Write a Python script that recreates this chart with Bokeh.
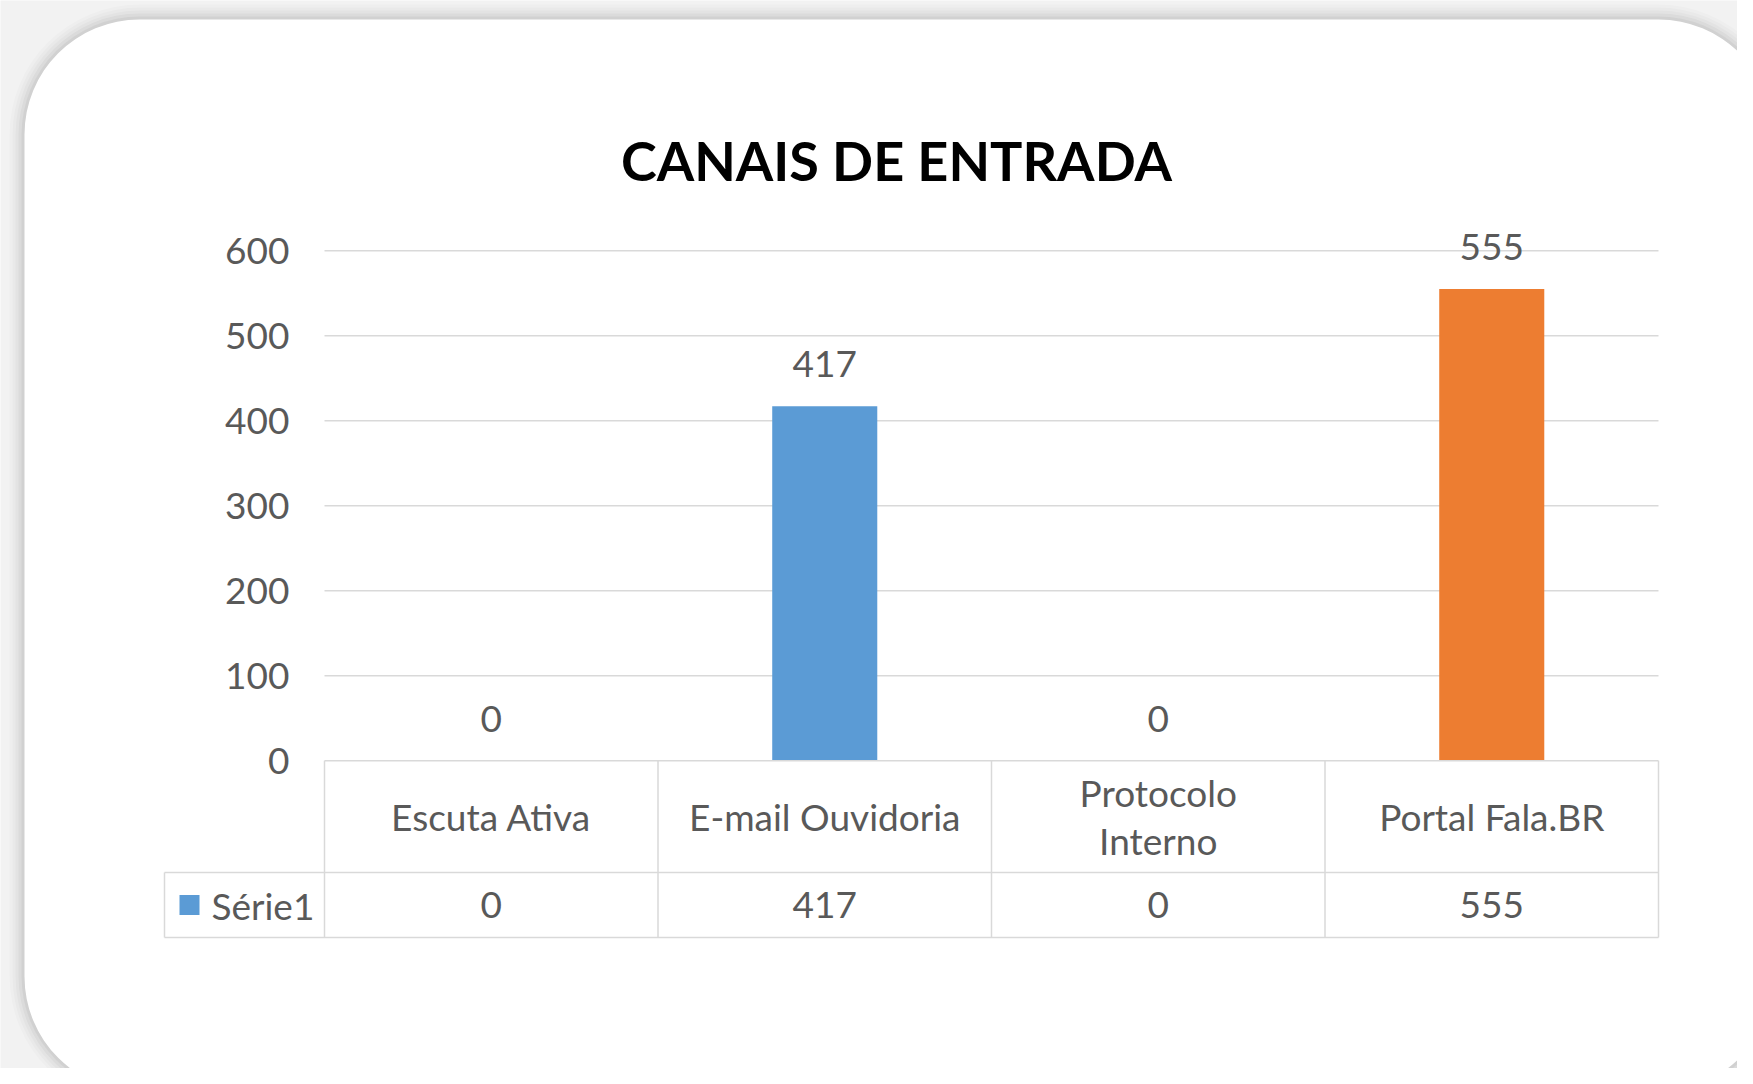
from bokeh.plotting import figure
from bokeh.models import ColumnDataSource, Range1d
from bokeh.core.properties import value
from bokeh.embed import file_html
from bokeh.resources import INLINE

# ---------------- data ----------------
title_text = "CANAIS DE ENTRADA"
categories = ["Escuta Ativa", "E-mail Ouvidoria", "Protocolo Interno", "Portal Fala.BR"]
category_labels = ["Escuta Ativa", "E-mail Ouvidoria", "Protocolo\nInterno", "Portal Fala.BR"]
values = [0, 417, 0, 555]
bar_colors = ["#5B9BD5", "#5B9BD5", "#5B9BD5", "#ED7D31"]
series_name = "Série1"
y_ticks = [0, 100, 200, 300, 400, 500, 600]

# ---------------- layout constants ----------------
W, H = 1737, 1068
PX_X = 333.5          # pixels per category
PX_Y = 0.85           # pixels per value unit
ORIG_X = 324          # figure px of category 0 left edge
ORIG_Y = 760.2        # figure px of value 0

def dx(px):  # figure pixel x -> data x
    return (px - ORIG_X) / PX_X

def dy(py):  # figure pixel y -> data y
    return (ORIG_Y - py) / PX_Y

FONT = value("Lato")
GRAY_TXT = "#595959"
LINE = "#d9d9d9"
FS = "37px"

p = figure(width=W, height=H, output_backend="svg", toolbar_location=None,
           x_range=Range1d(dx(0), dx(W)), y_range=Range1d(dy(H), dy(0)),
           min_border=0, border_fill_color="#f2f2f2", background_fill_color="#f2f2f2",
           outline_line_color=None)
p.xaxis.visible = False
p.yaxis.visible = False
p.grid.visible = False

# ---------------- card with soft shadow ----------------
cl, ct, cr, cb = dx(24), dy(19), dx(1773), dy(1091)
for i, a in enumerate([0.015, 0.02, 0.025, 0.035, 0.045]):
    g = (5 - i) * 3
    p.quad(left=[cl - g / PX_X], right=[cr + g / PX_X], top=[ct + g / PX_Y], bottom=[cb - g / PX_Y],
           fill_color="#000000", fill_alpha=a, line_color=None, border_radius=115 + g)
p.quad(left=[cl], right=[cr], top=[ct], bottom=[cb], fill_color="white",
       line_color=None, border_radius=115)

# ---------------- grid lines ----------------
n = len(categories)
grid_y = [t for t in y_ticks if t > 0]
p.segment(x0=[0] * len(grid_y), x1=[n] * len(grid_y), y0=grid_y, y1=grid_y,
          line_color=LINE, line_width=1.5)

# ---------------- y tick labels ----------------
p.text(x=[dx(289)] * len(y_ticks), y=y_ticks, text=[str(t) for t in y_ticks],
       text_font=FONT, text_font_size=FS, text_color=GRAY_TXT,
       text_align="right", text_baseline="middle")

# ---------------- bars ----------------
xs = [i + 0.5 for i in range(n)]
src = ColumnDataSource(dict(x=xs, top=values, color=bar_colors,
                            lab=[str(v) for v in values]))
p.vbar(x="x", top="top", bottom=0, width=0.315, fill_color="color", line_color=None, source=src)
p.text(x="x", y="top", text="lab", source=src, y_offset=-42,
       text_font=FONT, text_font_size=FS, text_color=GRAY_TXT,
       text_align="center", text_baseline="middle")

# ---------------- data table ----------------
y_mid = dy(872)
y_bot = dy(937)
leg_left = dx(164)
p.segment(x0=[0, leg_left, leg_left], x1=[n, n, n], y0=[0, y_mid, y_bot], y1=[0, y_mid, y_bot],
          line_color=LINE, line_width=1.5)
vx = list(range(n + 1))
p.segment(x0=vx, x1=vx, y0=[0] * len(vx), y1=[y_bot] * len(vx), line_color=LINE, line_width=1.5)
p.segment(x0=[leg_left], x1=[leg_left], y0=[y_mid], y1=[y_bot], line_color=LINE, line_width=1.5)

# category labels (header row)
p.text(x=xs, y=[(0 + y_mid) / 2] * n, text=category_labels,
       text_font=FONT, text_font_size=FS, text_color=GRAY_TXT,
       text_align="center", text_baseline="middle", text_line_height=1.08)
# values row
p.text(x=xs, y=[(y_mid + y_bot) / 2] * n, text=[str(v) for v in values],
       text_font=FONT, text_font_size=FS, text_color=GRAY_TXT,
       text_align="center", text_baseline="middle")
# legend key
p.scatter(x=[dx(189)], y=[(y_mid + y_bot) / 2], marker="square", size=20,
          fill_color=bar_colors[1], line_color=None)
p.text(x=[dx(211)], y=[(y_mid + y_bot) / 2], text=[series_name],
       text_font=FONT, text_font_size=FS, text_color=GRAY_TXT,
       text_align="left", text_baseline="middle")

# ---------------- title ----------------
p.text(x=[dx(896)], y=[dy(160)], text=[title_text],
       text_font=FONT, text_font_size="54px", text_font_style="bold", text_color="#000000",
       text_align="center", text_baseline="middle")

open("out.html", "w").write(file_html(p, INLINE))
